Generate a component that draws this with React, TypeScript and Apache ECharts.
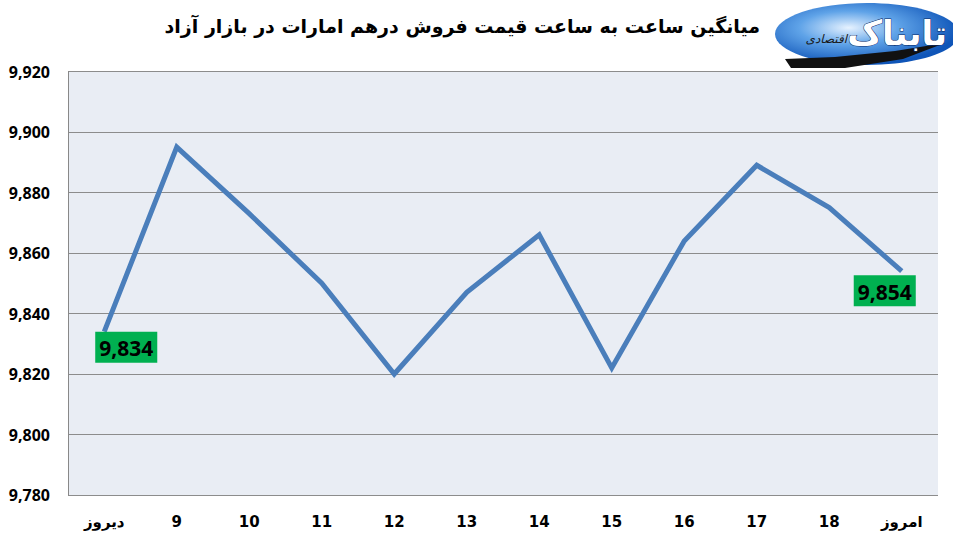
import React, { useEffect, useRef } from 'react';
import * as echarts from 'echarts';

const categories = ['دیروز', '9', '10', '11', '12', '13', '14', '15', '16', '17', '18', 'امروز'];
const prices = [9834, 9895, 9873, 9850, 9820, 9847, 9866, 9822, 9864, 9889, 9875, 9854];
const yTicks = [9780, 9800, 9820, 9840, 9860, 9880, 9900, 9920];

const titleText = 'میانگین ساعت به ساعت قیمت فروش درهم امارات در بازار آزاد';

const fmt = (v: number) => v.toLocaleString('en-US');

export default function App() {
  const chartRef = useRef<HTMLDivElement>(null);

  useEffect(() => {
    if (!chartRef.current) return;
    const chart = echarts.init(chartRef.current, null, { renderer: 'svg' });

    const labelBase = {
      show: true,
      position: 'bottom',
      distance: 0,
      formatter: (p: any) => fmt(p.value),
      backgroundColor: '#00B050',
      color: '#000',
      fontSize: 21,
      fontWeight: 'bold',
      fontFamily: 'Noto Sans',
      padding: [6, 4, 4, 4],
    };

    const seriesData = prices.map((v, i) => {
      if (i === 0) return { value: v, label: { ...labelBase, offset: [22, 0] } };
      if (i === prices.length - 1) return { value: v, label: { ...labelBase, offset: [-17, 4] } };
      return v;
    });

    const option = {
      animation: false,
      backgroundColor: '#fff',
      grid: {
        left: 68,
        right: 15,
        top: 71.5,
        bottom: 40,
        show: true,
        backgroundColor: '#E9EDF4',
        borderWidth: 0,
      },
      graphic: [
        {
          type: 'text',
          right: 193,
          top: 16,
          style: {
            text: titleText,
            fill: '#000',
            font: 'bold 19px "DejaVu Sans", "Noto Sans", sans-serif',
          },
        },
        {
          type: 'group',
          left: 775,
          top: 3,
          children: [
            {
              type: 'ellipse',
              shape: { cx: 92, cy: 31, rx: 92, ry: 31 },
              style: {
                fill: new echarts.graphic.RadialGradient(0.4, 0.4, 0.6, [
                  { offset: 0, color: '#E6F2FF' },
                  { offset: 0.45, color: '#5FA3E8' },
                  { offset: 1, color: '#0F55B8' },
                ]),
              },
            },
            {
              type: 'polygon',
              shape: {
                points: [[10, 56], [60, 54], [120, 48], [170, 40], [128, 56], [70, 65], [16, 65]],
              },
              style: { fill: '#111' },
            },
            {
              type: 'text',
              x: 172,
              y: 30,
              style: {
                text: 'تابناک',
                fill: '#fff',
                stroke: '#0b2a66',
                lineWidth: 1,
                font: 'bold 34px "DejaVu Sans", sans-serif',
                align: 'right',
                verticalAlign: 'middle',
              },
            },
            {
              type: 'text',
              x: 72,
              y: 36,
              style: {
                text: 'اقتصادی',
                fill: '#1a1a1a',
                font: 'italic 12px "DejaVu Sans", sans-serif',
                align: 'right',
                verticalAlign: 'middle',
              },
            },
          ],
        },
      ],
      xAxis: {
        type: 'category',
        data: categories,
        boundaryGap: true,
        axisLine: { show: false },
        axisTick: { show: false },
        axisLabel: {
          margin: 19,
          color: '#000',
          fontSize: 15,
          fontWeight: 'bold',
          fontFamily: '"Liberation Sans Narrow", "DejaVu Sans", sans-serif',
        },
      },
      yAxis: {
        type: 'value',
        min: 9780,
        max: 9920,
        interval: 20,
        axisLine: { show: true, lineStyle: { color: '#888', width: 1 } },
        axisTick: { show: false },
        axisLabel: {
          margin: 18,
          color: '#000',
          fontSize: 16,
          fontWeight: 'bold',
          fontFamily: 'Noto Sans',
          formatter: (v: number) => (yTicks.includes(v) ? fmt(v) : ''),
        },
        splitLine: { show: true, lineStyle: { color: '#8C8C8C', width: 1 } },
      },
      series: [
        {
          type: 'line',
          data: seriesData,
          symbol: 'circle',
          symbolSize: 0.1,
          showSymbol: true,
          itemStyle: { color: '#4A7EBB' },
          lineStyle: { color: '#4A7EBB', width: 5, join: 'miter' },
          z: 3,
        },
      ],
    };

    chart.setOption(option as any);
    return () => chart.dispose();
  }, []);

  return (
    <div
      ref={chartRef}
      style={{ position: 'fixed', left: 0, top: 0, width: 953, height: 535 }}
    />
  );
}
